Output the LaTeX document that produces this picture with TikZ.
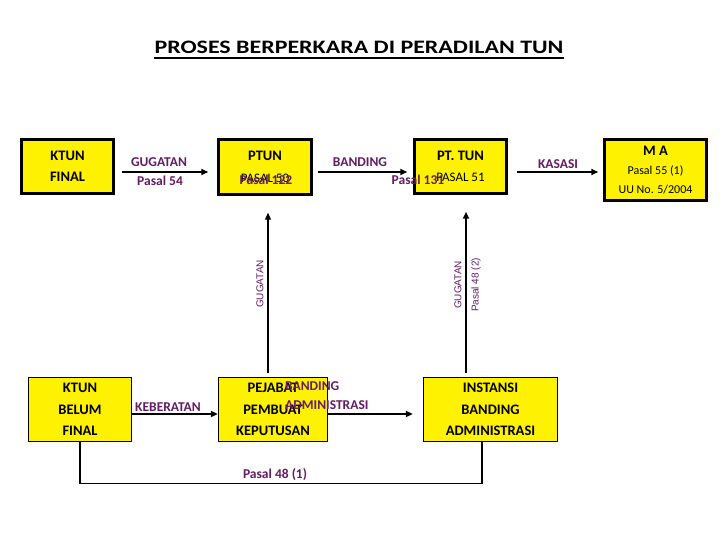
\documentclass[tikz,border=0pt]{standalone}
\usepackage{fontspec}
\setmainfont{Carlito}
\newfontfamily\thinfont{Liberation Sans}
\usetikzlibrary{arrows.meta, positioning}
\definecolor{labpurple}{RGB}{100,28,100}
\tikzset{
  tunbox/.style={
    rectangle, draw=black, fill=yellow, line width=#1,
    inner sep=0pt, align=center,
    font=\fontsize{14.5}{21.5}\selectfont\bfseries
  },
  tunarrow/.style={-{Triangle[length=7pt,width=6pt]}, line width=1.6pt},
  tunline/.style={line width=1.2pt},
  tunlabel/.style={text=labpurple, inner sep=0pt,
    font=\fontsize{13.5}{19}\selectfont\bfseries},
  sidelabel/.style={text=labpurple, inner sep=0pt, rotate=90,
    font=\thinfont\fontsize{10}{12}\selectfont},
}

\begin{document}
\begin{tikzpicture}[x=1pt,y=-1pt]
  \useasboundingbox[fill=white] (0,0) rectangle (720,540);
  \node[anchor=base,inner sep=0pt,font=\fontsize{19}{24}\selectfont\bfseries](title)at(359,54){\scalebox{1.26}[1]{PROSES BERPERKARA DI PERADILAN TUN}};
  \draw[line width=2pt]([yshift=-4.5pt]title.base west)--([yshift=-4.5pt]title.base east);
  % top row
  \node[tunbox=2.5pt,minimum width=92pt,minimum height=54pt](ktunF)at(67.5,166.5){KTUN\\FINAL};
  \node[tunbox=2.5pt,minimum width=93pt,minimum height=55pt](ptun)at(265,167){PTUN\\{\mdseries\fontsize{13}{21.5}\selectfont PASAL 50}};
  \node[tunbox=2.5pt,minimum width=92pt,minimum height=54pt](pttun)at(460.5,166.5){PT. TUN\\{\mdseries\fontsize{13}{20}\selectfont PASAL 51}};
  \node[tunbox=2.5pt,minimum width=102pt,minimum height=61pt,font=\fontsize{12}{19}\selectfont](ma)at(655.5,170){{\bfseries\fontsize{14.5}{19}\selectfont M A}\\Pasal 55 (1)\\UU No. 5/2004};
  % bottom row
  \node[tunbox=1.2pt,minimum width=103pt,minimum height=64pt](ktunB)at(80,409.5){KTUN\\BELUM\\FINAL};
  \node[tunbox=1.2pt,minimum width=109pt,minimum height=64pt](pejabat)at(273,409.5){PEJABAT\\PEMBUAT\\KEPUTUSAN};
  \node[tunbox=1.2pt,minimum width=134pt,minimum height=64pt](instansi)at(490.5,409.5){INSTANSI\\BANDING\\ADMINISTRASI};
  % arrows
  \draw[tunarrow]([shift={(7pt,-5.5pt)}]ktunF.east)--([shift={(-9pt,-5pt)}]ptun.west);
  \draw[tunarrow]([shift={(5pt,-5pt)}]ptun.east)--([shift={(-6pt,-5.5pt)}]pttun.west);
  \draw[tunarrow]([shift={(9pt,-5.5pt)}]pttun.east)--([shift={(-5pt,-2pt)}]ma.west);
  \draw[tunarrow]([yshift=-4.5pt]ktunB.east)--([yshift=-4.5pt]pejabat.west);
  \draw[tunarrow]([yshift=-4.5pt]pejabat.east)--([shift={(-10pt,-4.5pt)}]instansi.west);
  \draw[tunarrow,line width=1.2pt]([shift={(-5pt,4pt)}]pejabat.north)--([shift={(3pt,-17pt)}]ptun.south);
  \draw[tunarrow,line width=2pt]([shift={(-24.5pt,4pt)}]instansi.north)--([shift={(5.5pt,-17pt)}]pttun.south);
  \draw[tunline](ktunB.south)--++(0,41)-|([xshift=-8.5pt]instansi.south);
  % labels
  \node[tunlabel](gugatanT)at(159,162){GUGATAN};
  \node[tunlabel](pasal54)at(160,181){Pasal 54};
  \node[tunlabel](banding)at(360,162){BANDING};
  \node[tunlabel](kasasi)at(558,164){KASASI};
  \node[tunlabel](keberatan)at(168,407){KEBERATAN};
  \node[tunlabel](pasal122)at(266,180){Pasal 122};
  \node[tunlabel](pasal131)at(418,180){Pasal 131};
  \node[tunlabel,align=left,anchor=west](bandAdm)at(285,395.5){BANDING\\ADMINISTRASI};
  \node[tunlabel](pasal48a)at(275,475){Pasal 48 (1)};
  \node[sidelabel](gugatanL)at(260,284){GUGATAN};
  \node[sidelabel](gugatanR)at(458,285){GUGATAN};
  \node[sidelabel](pasal48b)at(476,285){Pasal 48 (2)};
\end{tikzpicture}
\end{document}
